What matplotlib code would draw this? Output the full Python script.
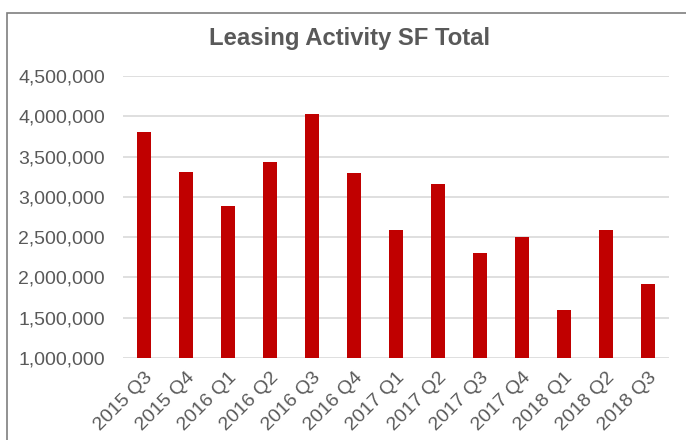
import matplotlib.pyplot as plt
from matplotlib.patches import Rectangle
from matplotlib.ticker import FuncFormatter

quarters = ['2015 Q3', '2015 Q4', '2016 Q1', '2016 Q2', '2016 Q3', '2016 Q4', '2017 Q1',
            '2017 Q2', '2017 Q3', '2017 Q4', '2018 Q1', '2018 Q2', '2018 Q3']
leasing_sf = [3805000, 3305000, 2885000, 3430000, 4025000, 3300000, 2585000,
              3155000, 2305000, 2505000, 1595000, 2590000, 1915000]
y_ticks = [1000000, 1500000, 2000000, 2500000, 3000000, 3500000, 4000000, 4500000]

plt.rcParams['font.family'] = ['Liberation Sans', 'DejaVu Sans']
text_color = '#595959'

fig = plt.figure(figsize=(6.86, 4.40), dpi=100)
# outer chart frame (bottom runs off the image)
fig.patches.append(Rectangle((7 / 686, -0.1), 1.2, 1.1 - 13 / 440, transform=fig.transFigure,
                             fill=False, edgecolor='#7f7f7f', linewidth=1.2))

ax = fig.add_axes([123 / 686, (440 - 358) / 440, 546 / 686, (358 - 76) / 440])
x = range(len(quarters))
ax.bar(x, leasing_sf, width=0.33, color='#C00000', zorder=3)

ax.set_xlim(-0.5, len(quarters) - 0.5)
ax.set_ylim(1000000, 4500000)
ax.set_yticks(y_ticks)
ax.yaxis.set_major_formatter(FuncFormatter(lambda v, p: f'{int(v):,}'))
ax.set_xticks(list(x))
ax.set_xticklabels(quarters, rotation=45, ha='right', rotation_mode='anchor')
ax.tick_params(axis='both', length=0, labelsize=14, colors=text_color)
ax.tick_params(axis='y', pad=13)
ax.tick_params(axis='x', pad=8)
ax.grid(axis='y', color='#d9d9d9', linewidth=1.2, zorder=0)
for s in ax.spines.values():
    s.set_visible(False)

fig.text(350 / 686, 1 - 38 / 440, 'Leasing Activity SF Total', ha='center', va='center',
         fontsize=17.2, fontweight='bold', color=text_color)

fig.savefig('out.png', dpi=100)
